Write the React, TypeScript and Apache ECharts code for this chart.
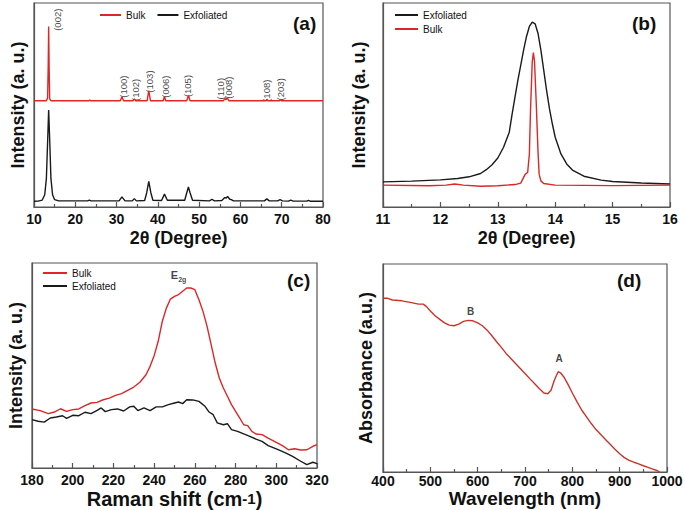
import React, { useEffect, useRef } from 'react';
import * as echarts from 'echarts';

const FONT = '"Liberation Sans", Arial, Helvetica, sans-serif';
const RED = '#dd2626';
const BLACK = '#1a1a1a';
const FRAME = '#555555';

// ---------- Panel (a): XRD full range ----------
const xrdBulk: [number, number][] = [
  [10, 52.1], [13.0, 52.1], [13.3, 53.5], [13.45, 70], [13.55, 88.5], [13.65, 70], [13.8, 53], [14.1, 52.1],
  [23.3, 52.1], [23.5, 52.5], [23.7, 52.1], [30.9, 52.1], [31.3, 54], [31.7, 52.1], [34.0, 52.1], [34.3, 53],
  [34.6, 52.1], [37.4, 52.1], [37.8, 57], [38.2, 52.1], [41.3, 52.1], [41.6, 54.2], [41.9, 52.1], [47.0, 52.1],
  [47.4, 54.7], [47.8, 52.1], [55.9, 52.1], [56.2, 53.2], [56.5, 52.6], [56.8, 53.5], [57.2, 52.1], [66.2, 52.1],
  [66.4, 52.8], [66.7, 52.1], [69.5, 52.1], [69.7, 52.7], [69.9, 52.1], [80, 52.1]
];
const xrdExfoliated: [number, number][] = [
  [10, 2.8], [11, 2.9], [12, 3.4], [12.6, 6], [13.0, 14], [13.3, 32], [13.55, 47.5], [13.8, 33], [14.1, 14],
  [14.5, 6], [15, 3.6], [16, 3], [23, 3], [23.4, 3.4], [23.8, 3], [30.6, 3], [31.3, 5], [32, 3.1], [33.8, 3],
  [34.3, 4.1], [34.8, 3], [36.8, 3.2], [37.3, 7], [37.8, 12.6], [38.3, 7], [38.8, 3.3], [40.9, 3.2], [41.6, 6.3],
  [42.3, 3.3], [46.5, 3.3], [47.0, 7], [47.4, 9.8], [47.8, 7], [48.4, 3.3], [52.5, 3], [53.1, 3.8], [53.7, 3],
  [55.5, 3.2], [56.2, 4.6], [56.6, 4.4], [56.9, 5.2], [57.4, 3.8], [57.8, 3.6], [58.3, 3], [65.8, 3], [66.4, 4],
  [67, 3], [69.0, 3], [69.6, 3.6], [70.2, 3], [71.6, 2.9], [72.2, 3.4], [72.8, 2.9], [76, 2.9], [76.5, 3.2],
  [77, 2.8], [80, 2.8]
];
const millerLabels = ['(002)', '(100)', '(102)', '(103)', '(006)', '(105)', '(110)', '(008)', '(108)', '(203)'];
const millerX = [15.6, 31.6, 34.5, 37.9, 41.8, 47.3, 55.1, 57.2, 66.3, 69.8];
const millerY = [91.8, 59, 57.4, 61.5, 59, 59.3, 58, 58.5, 57, 57.7];

// ---------- Panel (b): XRD zoom on (002) ----------
const zoomExfoliated: [number, number][] = [
  [11.0, 12.3], [11.5, 12.7], [12.0, 13.3], [12.3, 14], [12.5, 14.8], [12.7, 16.4], [12.8, 18.3], [12.9, 20.7],
  [13.0, 24], [13.1, 29.3], [13.2, 36.7], [13.25, 45.7], [13.3, 54], [13.35, 62.2], [13.4, 69.6], [13.45, 77],
  [13.5, 83.6], [13.55, 88.5], [13.6, 90.6], [13.65, 89.8], [13.7, 85.2], [13.75, 77], [13.8, 67.1],
  [13.85, 57.2], [13.9, 48.2], [13.95, 40.8], [14.0, 34.2], [14.1, 26], [14.2, 21.1], [14.3, 18.1],
  [14.5, 15.1], [14.8, 13.2], [15.0, 12.5], [15.5, 11.8], [16.0, 11.3]
];
const zoomBulk: [number, number][] = [
  [11.0, 10.7], [11.8, 10.4], [12.1, 10.7], [12.25, 11.3], [12.4, 10.7], [12.7, 10.2], [13.0, 10.4],
  [13.3, 11], [13.4, 11.7], [13.45, 14.5], [13.48, 16.1], [13.52, 16.9], [13.55, 26], [13.57, 47.4],
  [13.6, 71.2], [13.62, 75.7], [13.64, 71.2], [13.67, 50.7], [13.7, 27.6], [13.72, 16.1], [13.75, 12.8],
  [13.8, 11.5], [14.0, 10.7], [15.0, 10.5], [16.0, 10.7]
];

// ---------- Panel (c): Raman ----------
const ramanBulk: [number, number][] = [
  [180, 28.8], [184, 28], [188, 26.5], [191, 27.3], [194, 28.9], [197, 27.6], [200, 28.5], [203, 28.8],
  [206, 30.4], [209, 31.7], [212, 32], [215, 33.3], [218, 34.1], [221, 35.4], [224, 36.3], [227, 37.9],
  [230, 39.5], [233, 41.8], [236, 45.5], [238, 49.6], [240, 54.8], [242, 61.8], [244, 71.5], [246, 78],
  [248, 82.4], [250, 83.7], [252, 84.6], [254, 86.2], [256, 87.8], [258, 87.8], [260, 87], [262, 82.1],
  [264, 76.4], [266, 69.1], [268, 60.2], [270, 51.2], [272, 43.9], [274, 39], [276, 35], [278, 30.9],
  [280, 27.6], [282, 24.4], [284, 21.1], [286, 20.7], [288, 17.9], [290, 16.6], [293, 16.3], [296, 14.6],
  [300, 12.5], [303, 10.9], [306, 8.9], [309, 9.4], [312, 8.8], [315, 8.9], [318, 10.6], [320, 11.4]
];
const ramanExfoliated: [number, number][] = [
  [180, 23.6], [183, 22.8], [186, 22.4], [189, 24.4], [192, 24.9], [195, 25.5], [197, 24.2], [200, 25.7],
  [203, 25.5], [206, 27.2], [209, 26.5], [212, 28.1], [214, 29.3], [216, 27.5], [219, 28.5], [222, 28.8],
  [225, 27.8], [228, 29.8], [230, 30.1], [232, 28], [235, 29.3], [238, 28], [241, 29.8], [244, 29.8],
  [247, 30.9], [250, 31.7], [252, 32.2], [254, 31.4], [256, 33.3], [259, 33.2], [262, 32.5], [265, 30.1],
  [267, 27.3], [269, 26], [271, 22], [274, 21.1], [276, 21.6], [278, 18.7], [281, 17.9], [284, 16.6],
  [287, 15.4], [290, 14.1], [293, 13], [296, 10.9], [300, 9.3], [304, 7.6], [308, 5.7], [312, 3.3],
  [315, 1.6], [318, 2.8], [320, 2.1]
];

// ---------- Panel (d): UV-Vis absorbance ----------
const absorbance: [number, number][] = [
  [400, 83.5], [410, 83.5], [420, 82.7], [440, 82.3], [460, 81.4], [475, 80.7], [485, 80.7], [492, 79.5],
  [500, 77.4], [510, 75.1], [520, 73.4], [530, 71.7], [540, 70.6], [550, 70.3], [560, 71.1], [570, 72.4],
  [580, 72.9], [590, 72.7], [600, 71.7], [610, 70.3], [620, 68.2], [630, 65.5], [640, 62.6], [650, 59.9],
  [660, 57], [670, 54.6], [680, 52.2], [690, 49.8], [700, 47.4], [710, 44.9], [720, 42.5], [730, 40.1],
  [740, 38], [748, 37.6], [755, 39.3], [762, 44.1], [770, 48.2], [775, 47.7], [782, 45.7], [790, 42.5],
  [800, 38], [810, 33.7], [820, 29.7], [830, 26.5], [840, 23.3], [850, 20.4], [860, 18], [870, 15.6],
  [880, 13.3], [890, 10.9], [900, 8.8], [910, 6.9], [920, 5.6], [930, 4.7], [940, 3.9], [950, 3],
  [960, 2.2], [970, 1.4], [980, 0.6], [985, 0]
];
const peakLabels = ['B', 'A'];
const peakX = [585, 772];
const peakY = [77, 54.6];

const grids = [
  { left: 34, top: 3, width: 289, height: 204 },
  { left: 383, top: 3, width: 287, height: 204 },
  { left: 32, top: 263, width: 285, height: 205 },
  { left: 383, top: 264, width: 284, height: 208 }
];

function xAxis(gridIndex: number, min: number, max: number, interval: number, name: string, nameGap: number,
  margin: number, fontSize: number, nameLineHeight: number, labelLineHeight: number, rich?: any) {
  return {
    type: 'value', gridIndex, min, max, interval,
    name, nameLocation: 'middle', nameGap, nameMoveOverlap: false,
    nameTextStyle: { fontFamily: FONT, fontWeight: 'bold', fontSize, color: '#111', lineHeight: nameLineHeight, rich },
    axisLine: { show: true, lineStyle: { color: FRAME, width: 1.2 } },
    axisTick: { show: true, inside: true, length: 5, lineStyle: { color: FRAME, width: 1.2 } },
    minorTick: { show: true, splitNumber: 2, length: 3, lineStyle: { color: FRAME, width: 1.2 } },
    axisLabel: {
      fontFamily: FONT, fontWeight: 'bold', fontSize: 14, color: '#111', margin, lineHeight: labelLineHeight,
      showMinLabel: true, showMaxLabel: true, hideOverlap: false,
      formatter: (v: number) => String(v)
    },
    splitLine: { show: false }, minorSplitLine: { show: false }
  };
}
function yAxis(gridIndex: number, name: string, nameGap: number) {
  return {
    type: 'value', gridIndex, min: 0, max: 100,
    name, nameLocation: 'middle', nameGap, nameMoveOverlap: false,
    nameTextStyle: { fontFamily: FONT, fontWeight: 'bold', fontSize: 18, color: '#111' },
    axisLine: { show: true, lineStyle: { color: FRAME, width: 1.2 } },
    axisTick: { show: false }, axisLabel: { show: false }, splitLine: { show: false }
  };
}
function line(name: string, idx: number, data: [number, number][], color: string) {
  return {
    type: 'line', name, xAxisIndex: idx, yAxisIndex: idx, data, symbol: 'none', smooth: false,
    lineStyle: { color, width: 1.4 }, itemStyle: { color }, silent: true
  };
}

export default function App() {
  const ref = useRef<HTMLDivElement>(null);
  useEffect(() => {
    document.body.style.margin = '0';
    const chart = echarts.init(ref.current!, null, { renderer: 'svg' });
    const legendText = { fontFamily: FONT, fontSize: 10, color: '#111', lineHeight: 12 };
    chart.setOption({
      animation: false,
      backgroundColor: '#ffffff',
      grid: grids.map(g => ({
        ...g, show: true, borderColor: FRAME, borderWidth: 1.2, backgroundColor: 'transparent',
        containLabel: false, outerBoundsMode: 'none'
      })),
      xAxis: [
        xAxis(0, 10, 80, 10, '2θ (Degree)', 22, 5, 18, 18, 14),
        xAxis(1, 11, 16, 1, '2θ (Degree)', 22, 5, 18, 18, 14),
        xAxis(2, 180, 320, 20, 'Raman shift (cm{sup|-1})', 23, 5, 20, 16, 13, {
          sup: { fontFamily: FONT, fontWeight: 'bold', fontSize: 15, color: '#111', verticalAlign: 'top', lineHeight: 8 }
        }),
        xAxis(3, 400, 1000, 100, 'Wavelength (nm)', 18, 2, 19, 16, 13)
      ],
      yAxis: [
        yAxis(0, 'Intensity (a. u.)', 7),
        yAxis(1, 'Intensity (a. u.)', 15),
        yAxis(2, 'Intensity (a. u.)', 7),
        yAxis(3, 'Absorbance (a.u.)', 8)
      ],
      legend: [
        { data: ['Bulk', 'Exfoliated'], orient: 'horizontal', left: 95, top: 4, icon: 'rect', itemWidth: 21, itemHeight: 2, itemGap: 12, textStyle: legendText, selectedMode: false },
        { data: ['Exfoliated', 'Bulk'], orient: 'vertical', left: 390, top: 4, icon: 'rect', itemWidth: 23, itemHeight: 2, itemGap: 2, textStyle: legendText, selectedMode: false },
        { data: ['Bulk', 'Exfoliated'], orient: 'vertical', left: 38, top: 262, icon: 'rect', itemWidth: 24, itemHeight: 2, itemGap: 1, textStyle: legendText, selectedMode: false }
      ],
      series: [
        line('Bulk', 0, xrdBulk, RED),
        line('Exfoliated', 0, xrdExfoliated, BLACK),
        {
          type: 'scatter', xAxisIndex: 0, yAxisIndex: 0, symbolSize: 0, silent: true,
          itemStyle: { color: 'transparent' },
          data: millerX.map((x, i) => ({ value: [x, millerY[i]], name: millerLabels[i] })),
          label: { show: true, position: 'inside', rotate: 90, formatter: '{b}', fontFamily: FONT, fontSize: 9.5, color: '#111' }
        },
        line('Exfoliated', 1, zoomExfoliated, BLACK),
        line('Bulk', 1, zoomBulk, RED),
        line('Bulk', 2, ramanBulk, RED),
        line('Exfoliated', 2, ramanExfoliated, BLACK),
        {
          type: 'scatter', xAxisIndex: 2, yAxisIndex: 2, symbolSize: 0, silent: true,
          itemStyle: { color: 'transparent' },
          data: [{ value: [252, 94], name: 'E2g' }],
          label: {
            show: true, position: 'inside', formatter: '{e|E}{s|2g}',
            rich: {
              e: { fontFamily: FONT, fontWeight: 'bold', fontSize: 11, color: '#111', lineHeight: 16 },
              s: { fontFamily: FONT, fontWeight: 'bold', fontSize: 7, color: '#111', lineHeight: 8, verticalAlign: 'bottom' }
            }
          }
        },
        line('Absorbance', 3, absorbance, '#cc3328'),
        {
          type: 'scatter', xAxisIndex: 3, yAxisIndex: 3, symbolSize: 0, silent: true,
          itemStyle: { color: 'transparent' },
          data: peakX.map((x, i) => ({ value: [x, peakY[i]], name: peakLabels[i] })),
          label: { show: true, position: 'inside', formatter: '{b}', fontFamily: FONT, fontWeight: 'bold', fontSize: 10, color: '#111' }
        }
      ],
      graphic: [
        { type: 'text', left: 293, top: 14, style: { text: '(a)', font: `bold 19px ${FONT}`, fill: '#111' } },
        { type: 'text', left: 632, top: 14, style: { text: '(b)', font: `bold 19px ${FONT}`, fill: '#111' } },
        { type: 'text', left: 287, top: 271, style: { text: '(c)', font: `bold 19px ${FONT}`, fill: '#111' } },
        { type: 'text', left: 617, top: 271, style: { text: '(d)', font: `bold 19px ${FONT}`, fill: '#111' } }
      ]
    });
    return () => chart.dispose();
  }, []);
  return <div ref={ref} style={{ width: 685, height: 510 }} />;
}
